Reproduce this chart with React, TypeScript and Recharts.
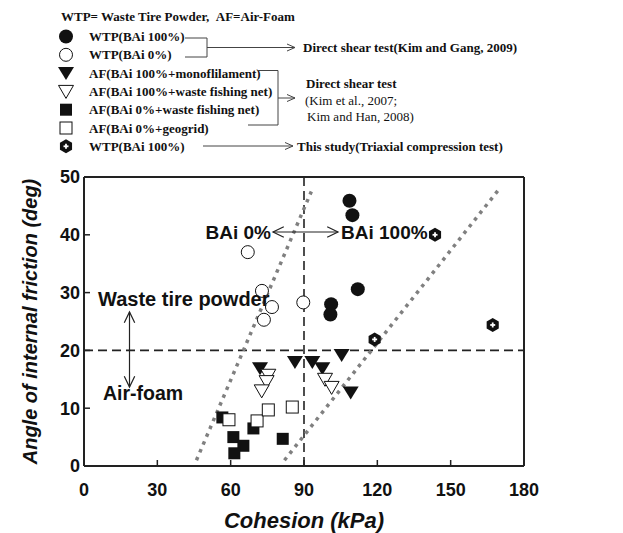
import React from "react";
import { ScatterChart, Scatter, XAxis, YAxis, ReferenceLine, Label } from "recharts";

const xTicks = [0, 30, 60, 90, 120, 150, 180];
const yTicks = [0, 10, 20, 30, 40, 50];

// Direct shear test (Kim and Gang, 2009)
const wtpBai100 = [
  { x: 108.6, y: 45.9 },
  { x: 109.8, y: 43.4 },
  { x: 112.0, y: 30.6 },
  { x: 101.1, y: 28.0 },
  { x: 100.8, y: 26.2 },
];
const wtpBai0 = [
  { x: 67.0, y: 37.0 },
  { x: 72.8, y: 30.3 },
  { x: 76.9, y: 27.5 },
  { x: 73.6, y: 25.3 },
  { x: 89.7, y: 28.3 },
];
// Direct shear test (Kim et al., 2007; Kim and Han, 2008)
const afMono = [
  { x: 72.0, y: 16.9 },
  { x: 86.3, y: 18.0 },
  { x: 93.4, y: 18.0 },
  { x: 97.5, y: 16.9 },
  { x: 105.4, y: 19.2 },
  { x: 109.1, y: 12.7 },
];
const afNet100 = [
  { x: 75.4, y: 15.7 },
  { x: 74.7, y: 14.6 },
  { x: 72.7, y: 13.0 },
  { x: 98.6, y: 15.0 },
  { x: 101.3, y: 13.6 },
];
const afNet0 = [
  { x: 56.6, y: 8.4 },
  { x: 61.1, y: 5.0 },
  { x: 65.2, y: 3.5 },
  { x: 61.5, y: 2.2 },
  { x: 69.3, y: 6.5 },
  { x: 81.3, y: 4.7 },
];
const afGeogrid = [
  { x: 59.3, y: 8.0 },
  { x: 70.8, y: 7.8 },
  { x: 75.4, y: 9.7 },
  { x: 85.2, y: 10.2 },
];
// This study (triaxial compression test)
const thisStudy = [
  { x: 143.6, y: 40.0 },
  { x: 167.2, y: 24.4 },
  { x: 118.9, y: 21.9 },
];

const leftBound = [
  { x: 46, y: 1 },
  { x: 93, y: 47.5 },
];
const rightBound = [
  { x: 82, y: 1 },
  { x: 170, y: 48 },
];

const legendRows = [
  { kind: "wtp100", text: "WTP(BAi 100%)" },
  { kind: "wtp0", text: "WTP(BAi 0%)" },
  { kind: "mono", text: "AF(BAi 100%+monoflilament)" },
  { kind: "net100", text: "AF(BAi 100%+waste fishing net)" },
  { kind: "net0", text: "AF(BAi 0%+waste fishing net)" },
  { kind: "geo", text: "AF(BAi 0%+geogrid)" },
  { kind: "study", text: "WTP(BAi 100%)" },
];

const INK = "#111";
const SANS = "'Liberation Sans', Arial, sans-serif";
const SERIF = "'Liberation Serif', 'Times New Roman', serif";

function marker(kind: string, cx: number, cy: number) {
  switch (kind) {
    case "wtp100":
      return <circle cx={cx} cy={cy} r={7} fill={INK} />;
    case "wtp0":
      return <circle cx={cx} cy={cy} r={6.5} fill="#fff" stroke={INK} strokeWidth={1} />;
    case "mono":
      return (
        <polygon
          points={`${cx - 8},${cy - 6} ${cx + 8},${cy - 6} ${cx},${cy + 7}`}
          fill={INK}
        />
      );
    case "net100":
      return (
        <polygon
          points={`${cx - 7.5},${cy - 6} ${cx + 7.5},${cy - 6} ${cx},${cy + 7}`}
          fill="#fff"
          stroke={INK}
          strokeWidth={1}
        />
      );
    case "net0":
      return <rect x={cx - 6} y={cy - 6} width={12} height={12} fill={INK} />;
    case "geo":
      return (
        <rect x={cx - 6} y={cy - 6} width={12} height={12} fill="#fff" stroke={INK} strokeWidth={1} />
      );
    default: {
      const pts = [0, 1, 2, 3, 4, 5]
        .map((i) => {
          const a = (Math.PI / 3) * i - Math.PI / 2;
          return `${cx + 7 * Math.cos(a)},${cy + 7 * Math.sin(a)}`;
        })
        .join(" ");
      return (
        <g>
          <polygon points={pts} fill={INK} />
          <line x1={cx - 2.5} x2={cx + 2.5} y1={cy} y2={cy} stroke="#fff" strokeWidth={1.8} />
          <line x1={cx} x2={cx} y1={cy - 2.5} y2={cy + 2.5} stroke="#fff" strokeWidth={1.8} />
        </g>
      );
    }
  }
}

const shapeOf = (kind: string) => (p: any) => marker(kind, p.cx, p.cy);

function Arrow({ x1, y1, x2, y2, both = false }: any) {
  const ang = Math.atan2(y2 - y1, x2 - x1);
  const head = (x: number, y: number, a: number) => {
    const l = 12;
    const s = 0.45;
    return (
      <polyline
        points={`${x - l * Math.cos(a - s)},${y - l * Math.sin(a - s)} ${x},${y} ${x - l * Math.cos(a + s)},${y - l * Math.sin(a + s)}`}
        fill="none"
        stroke="#222"
        strokeWidth={1.2}
      />
    );
  };
  return (
    <g>
      <line x1={x1} y1={y1} x2={x2} y2={y2} stroke="#222" strokeWidth={1.2} />
      {head(x2, y2, ang)}
      {both && head(x1, y1, ang + Math.PI)}
    </g>
  );
}

function SmallArrow({ x1, x2, y }: any) {
  return (
    <g stroke="#444" strokeWidth={1} fill="none">
      <line x1={x1} x2={x2} y1={y} y2={y} />
      <polyline points={`${x2 - 8},${y - 3.5} ${x2},${y} ${x2 - 8},${y + 3.5}`} />
    </g>
  );
}

export default function App() {
  const tick = { fontFamily: SANS, fontWeight: 700, fontSize: 18, fill: INK };
  return (
    <div style={{ position: "relative", width: 615, height: 525 }}>
      <ScatterChart
        width={615}
        height={525}
        margin={{ top: 169, right: 99, bottom: 37, left: 16 }}
      >
        <XAxis
          type="number"
          dataKey="x"
          domain={[0, 180]}
          ticks={xTicks}
          height={30}
          axisLine={{ stroke: "#222", strokeWidth: 2 }}
          tickLine={{ stroke: "#222", strokeWidth: 1.5 }}
          tickSize={-6}
          tickMargin={23}
          tick={tick}
          interval={0}
        >
          <Label
            value="Cohesion (kPa)"
            position="bottom"
            offset={16}
            style={{ fontFamily: SANS, fontWeight: 700, fontStyle: "italic", fontSize: 22, fill: INK }}
          />
        </XAxis>
        <YAxis
          type="number"
          dataKey="y"
          domain={[0, 50]}
          ticks={yTicks}
          width={60}
          axisLine={{ stroke: "#222", strokeWidth: 2 }}
          tickLine={{ stroke: "#222", strokeWidth: 1.5 }}
          tickSize={-6}
          tickMargin={10}
          tick={tick}
          interval={0}
        >
          <Label
            value="Angle of internal friction (deg)"
            position="insideLeft"
            angle={-90}
            offset={6}
            style={{
              fontFamily: SANS,
              fontWeight: 700,
              fontStyle: "italic",
              fontSize: 20,
              fill: INK,
              textAnchor: "middle",
            }}
          />
        </YAxis>
        <ReferenceLine y={50} stroke="#222" strokeWidth={2} />
        <ReferenceLine x={180} stroke="#222" strokeWidth={2} />
        <ReferenceLine x={90} stroke="#222" strokeWidth={1.6} strokeDasharray="9 5" />
        <ReferenceLine y={20} stroke="#222" strokeWidth={1.6} strokeDasharray="9 5" />
        <ReferenceLine
          segment={leftBound}
          stroke="#808080"
          strokeWidth={3.5}
          strokeDasharray="3.5 5"
        />
        <ReferenceLine
          segment={rightBound}
          stroke="#808080"
          strokeWidth={3.5}
          strokeDasharray="3.5 5"
        />
        <Scatter data={afNet0} shape={shapeOf("net0")} isAnimationActive={false} />
        <Scatter data={afGeogrid} shape={shapeOf("geo")} isAnimationActive={false} />
        <Scatter data={afMono} shape={shapeOf("mono")} isAnimationActive={false} />
        <Scatter data={afNet100} shape={shapeOf("net100")} isAnimationActive={false} />
        <Scatter data={wtpBai0} shape={shapeOf("wtp0")} isAnimationActive={false} />
        <Scatter data={wtpBai100} shape={shapeOf("wtp100")} isAnimationActive={false} />
        <Scatter data={thisStudy} shape={shapeOf("study")} isAnimationActive={false} />
      </ScatterChart>

      <svg
        width={623}
        height={533}
        style={{ position: "absolute", left: -8, top: -8, pointerEvents: "none" }}
      >
        {/* legend */}
        <text x={61} y={20.5} fontFamily={SERIF} fontWeight={700} fontSize={13} fill={INK}>
          WTP= Waste Tire Powder,{"\u00a0\u00a0"}AF=Air-Foam
        </text>
        {legendRows.map((r, i) => {
          const y = 36.5 + i * 18.3;
          return (
            <g key={i}>
              {marker(r.kind, 66, y)}
              <text x={89} y={y + 4.5} fontFamily={SERIF} fontWeight={700} fontSize={13} fill={INK}>
                {r.text}
              </text>
            </g>
          );
        })}
        <g stroke="#444" strokeWidth={1} fill="none">
          <polyline points="185,38 207,38 207,57 185,57" />
          <polyline points="258,70.5 278,70.5 278,125 248,125" />
        </g>
        <SmallArrow x1={207} x2={295} y={47.5} />
        <SmallArrow x1={278} x2={295} y={98} />
        <SmallArrow x1={203} x2={293} y={146} />
        <text x={303} y={52} fontFamily={SERIF} fontWeight={700} fontSize={13} fill={INK}>
          Direct shear test(Kim and Gang, 2009)
        </text>
        <text x={306} y={87.5} fontFamily={SERIF} fontWeight={700} fontSize={13} fill={INK}>
          Direct shear test
        </text>
        <text x={305} y={104.5} fontFamily={SERIF} fontSize={13} fill={INK}>
          (Kim et al., 2007;
        </text>
        <text x={307} y={121} fontFamily={SERIF} fontSize={13} fill={INK}>
          Kim and Han, 2008)
        </text>
        <text x={297} y={150.5} fontFamily={SERIF} fontWeight={700} fontSize={13} fill={INK}>
          This study(Triaxial compression test)
        </text>

        {/* plot annotations */}
        <text x={271} y={238.5} textAnchor="end" fontFamily={SANS} fontWeight={700} fontSize={19} fill={INK}>
          BAi 0%
        </text>
        <Arrow x1={273} y1={232} x2={338} y2={232} both />
        <text x={341} y={239} fontFamily={SANS} fontWeight={700} fontSize={19} fill={INK}>
          BAi 100%
        </text>
        <text x={98} y={305.5} fontFamily={SANS} fontWeight={700} fontSize={20} fill={INK}>
          Waste tire powder
        </text>
        <Arrow x1={129.5} y1={312} x2={129.5} y2={387} both />
        <text x={103} y={400} fontFamily={SANS} fontWeight={700} fontSize={19.5} fill={INK}>
          Air-foam
        </text>
      </svg>
    </div>
  );
}
